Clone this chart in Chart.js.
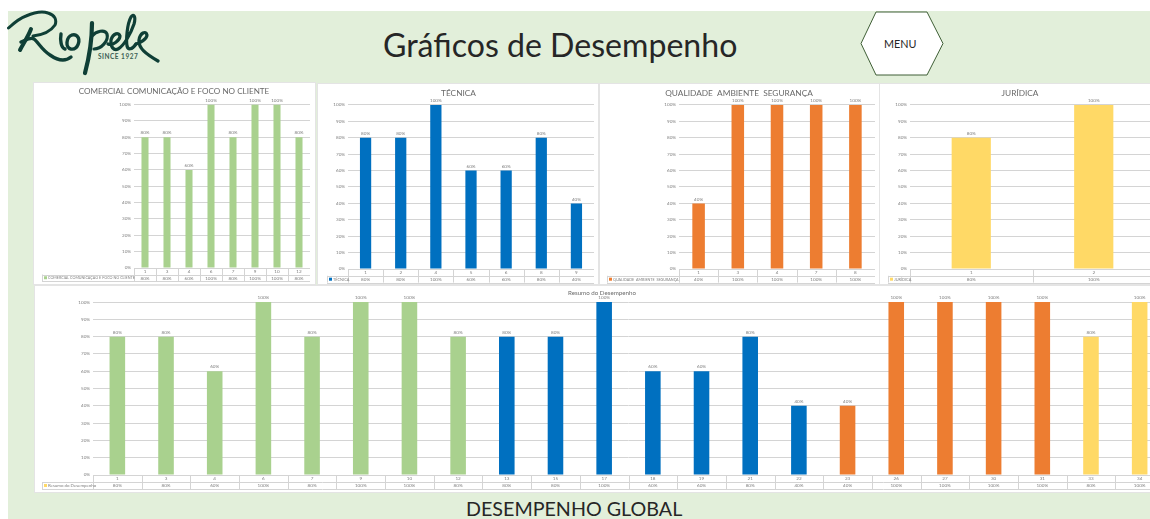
<!DOCTYPE html>
<html lang="pt">
<head>
<meta charset="utf-8">
<script src="https://cdn.jsdelivr.net/npm/chart.js@4"></script>
<style>
html,body{margin:0;padding:0;background:#fff;width:1150px;height:519px;overflow:hidden;font-family:Lato,sans-serif}
#bg{position:absolute;left:8px;top:11px;width:1142px;height:508px;background:#e2efda}
.panel{position:absolute;background:#fff;box-shadow:0 0 0 1px #e4e4e4}
canvas{position:absolute;filter:blur(.4px)}
#head{position:absolute;left:383px;top:21px;font-size:32.1px;line-height:48px;color:#262626;white-space:nowrap}
#foot{position:absolute;left:466px;top:496px;font-size:19.7px;line-height:26px;color:#262626;white-space:nowrap}
#menu{position:absolute;left:884px;top:37px;font-size:10.8px;line-height:14px;color:#262626}
svg{position:absolute;left:0;top:0}
</style>
</head>
<body>
<div id="bg"></div>
<div class="panel" style="left:34px;top:83px;width:281px;height:201px"></div>
<div class="panel" style="left:318px;top:84px;width:280px;height:200px"></div>
<div class="panel" style="left:600px;top:84px;width:279px;height:200px"></div>
<div class="panel" style="left:880px;top:84px;width:270px;height:200px"></div>
<div class="panel" style="left:35px;top:286px;width:1115px;height:206px"></div>
<svg width="1150" height="519" style="filter:blur(.3px)">
<g fill="none" stroke="#0f3f36" stroke-linecap="round" stroke-linejoin="round">
<path stroke-width="3" d="M8.5 28C14 23 20 18 26 16C33 13 42 11 48 13C55 15 57 20 55 25C51 31 42 35 33 36"/>
<path stroke-width="4" d="M31 29C28 37 23 44 20 50"/>
<path stroke-width="3.4" d="M21 42C26 40 31 37 34 39C38 42 42 50 50 55C57 60 65 62 71 57"/>
<path stroke-width="3.4" d="M61 34C60 40 61 48 65 49"/>
<path stroke-width="3.4" d="M72 35C66 37 65 48 71 49C78 50 81 40 77 36C75 34 73 35 72 35"/>
<path stroke-width="4.2" d="M92 23C92 40 89 58 85 73"/>
<path stroke-width="3.2" d="M92 36C96 31 105 29 107 34C109 41 101 49 94 49"/>
<path stroke-width="3.2" d="M108 44C113 46 120 40 120 36C119 32 113 33 111 40C110 47 114 51 118 49C124 46 131 33 134 24C136 17 134 13 131 17C127 24 126 40 127 46C128 50 132 50 136 44"/>
<path stroke-width="3.2" d="M136 44C140 43 147 39 147 35C146 30 140 33 139 40C138 48 146 54 158 61"/>
</g>
</svg>
<div style="position:absolute;left:98px;top:52px;font-size:6.5px;line-height:9px;font-weight:700;letter-spacing:.5px;color:#3d5f55;white-space:nowrap">SINCE 1927</div>
<div id="head">Gráficos de Desempenho</div>
<svg width="1150" height="519"><polygon points="861,43.5 876,12 927,12 943,43.5 927,75 876,75" fill="#fff" stroke="#3f5f36" stroke-width="1"/></svg>
<div id="menu">MENU</div>
<div id="foot">DESEMPENHO GLOBAL</div>

<canvas id="c1" width="272" height="200" style="left:38px;top:83px"></canvas>
<canvas id="c2" width="271" height="200" style="left:323px;top:84px"></canvas>
<canvas id="c3" width="272" height="200" style="left:603px;top:84px"></canvas>
<canvas id="c4" width="270" height="200" style="left:885px;top:84px"></canvas>
<canvas id="c5" width="1124" height="206" style="left:40px;top:286px"></canvas>

<script>
// ---- chart data ----
const comercialLabels = ['1','3','4','6','7','9','10','12'];
const comercialValues = [80,80,60,100,80,100,100,80];
const tecnicaLabels = ['1','2','4','5','6','8','9'];
const tecnicaValues = [80,80,100,60,60,80,40];
const qualidadeLabels = ['1','3','4','7','8'];
const qualidadeValues = [40,100,100,100,100];
const juridicaLabels = ['1','2'];
const juridicaValues = [80,100];
const globalLabels = ['1','3','4','6','7','9','10','12','13','15','17','18','19','21','22','23','26','27','30','31','33','34'];
const globalValues = [80,80,60,100,80,100,100,80,80,80,100,60,60,80,40,40,100,100,100,100,80,100];
const globalAreas = ['c','c','c','c','c','c','c','c','t','t','t','t','t','t','t','q','q','q','q','q','j','j'];

// ---- styles ----
const GREEN='#a9d18e', BLUE='#0070c0', ORANGE='#ed7d31', YELLOW='#ffd966';
const areaColour = {c:GREEN,t:BLUE,q:ORANGE,j:YELLOW};
const GRID='#d4d4d4', TXT='#7f7f7f';

const tablePlugin = {
  id:'dataTable',
  afterDraw(chart,args,o){
    const {ctx,chartArea:a,scales:{x}}=chart;
    const labels=chart.data.labels, vals=chart.data.datasets[0].data;
    const y0=a.bottom, y1=y0+o.row1, y2=y1+o.row2;
    const step=(a.right-a.left)/labels.length;
    ctx.save();
    ctx.strokeStyle=GRID; ctx.lineWidth=1;
    const hl=(xa,xb,y)=>{ctx.beginPath();ctx.moveTo(xa,Math.round(y)+.5);ctx.lineTo(xb,Math.round(y)+.5);ctx.stroke();};
    const vl=(xp,ya,yb)=>{const p=Math.round(xp)+.5;ctx.beginPath();ctx.moveTo(p,ya);ctx.lineTo(p,yb);ctx.stroke();};
    hl(a.left,a.right,y0); hl(o.keyLeft,a.right,y1); hl(o.keyLeft,a.right,y2);
    vl(o.keyLeft,y1,y2);
    for(let i=0;i<=labels.length;i++) vl(a.left+i*step,y0,y2);
    ctx.fillStyle=TXT; ctx.font='4.6px Lato'; ctx.textAlign='center'; ctx.textBaseline='middle';
    labels.forEach((l,i)=>{
      const cx=x.getPixelForValue(i);
      ctx.fillText(l,cx,(y0+y1)/2+.5);
      ctx.fillText(vals[i]+'%',cx,(y1+y2)/2+.5);
    });
    ctx.fillStyle=o.keyColour; ctx.fillRect(o.keyLeft+2,(y1+y2)/2-1.5,3,3);
    ctx.fillStyle=TXT; ctx.textAlign='left'; ctx.font=o.nameFont;
    ctx.fillText(chart.data.datasets[0].label,o.keyLeft+6,(y1+y2)/2+.5);
    ctx.restore();
  }
};
const valueLabels = {
  id:'valueLabels',
  afterDatasetsDraw(chart){
    const {ctx}=chart, meta=chart.getDatasetMeta(0), vals=chart.data.datasets[0].data;
    ctx.save();
    ctx.fillStyle=TXT; ctx.font='4.6px Lato'; ctx.textAlign='center'; ctx.textBaseline='bottom';
    meta.data.forEach((b,i)=>ctx.fillText(vals[i]+'%',b.x,b.y-2));
    ctx.restore();
  }
};

function make(id,cfg){
  const plotLeftGap=cfg.gutter;
  return new Chart(document.getElementById(id),{
    type:'bar',
    plugins:[tablePlugin,valueLabels],
    data:{labels:cfg.labels,datasets:[{label:cfg.name,data:cfg.values,backgroundColor:cfg.colours,
      categoryPercentage:1,barPercentage:.32,borderWidth:0}]},
    options:{
      responsive:false,animation:false,devicePixelRatio:1,
      layout:{padding:{left:0,right:0,top:0,bottom:cfg.bottom}},
      plugins:{
        legend:{display:false},tooltip:{enabled:false},
        title:{display:true,text:cfg.title,color:'#6a6a6a',
          font:{family:'Lato',size:cfg.titleSize,weight:'normal'},
          padding:{top:cfg.titleTop,bottom:cfg.titleBottom}},
        dataTable:{row1:cfg.row,row2:cfg.row,keyLeft:cfg.keyLeft,keyColour:cfg.keyColour,nameFont:cfg.nameFont}
      },
      scales:{
        x:{grid:{display:false},border:{display:false},ticks:{display:false},afterFit(s){s.height=0;}},
        y:{min:0,max:100,
          grid:{color:GRID,lineWidth:1,drawTicks:false},border:{display:false},
          ticks:{stepSize:10,padding:3,color:TXT,font:{family:'Lato',size:4.6},callback:v=>v+'%'},
          afterFit(s){s.width=plotLeftGap;}}
      }
    }
  });
}

make('c1',{labels:comercialLabels,values:comercialValues,name:'COMERCIAL COMUNICAÇÃO E FOCO NO CLIENTE',title:'COMERCIAL COMUNICAÇÃO E FOCO NO CLIENTE',
  colours:GREEN,keyColour:GREEN,gutter:96,keyLeft:4,bottom:15,row:6.5,titleSize:8.1,titleTop:4,titleBottom:7.8,nameFont:'3.7px Lato'});
make('c2',{labels:tecnicaLabels,values:tecnicaValues,name:'TÉCNICA',title:'TÉCNICA',
  colours:BLUE,keyColour:BLUE,gutter:25,keyLeft:4,bottom:15,row:6.8,titleSize:8.3,titleTop:4,titleBottom:7,nameFont:'3.9px Lato'});
make('c3',{labels:qualidadeLabels,values:qualidadeValues,name:'QUALIDADE  AMBIENTE  SEGURANÇA',title:'QUALIDADE  AMBIENTE  SEGURANÇA',
  colours:ORANGE,keyColour:ORANGE,gutter:76,keyLeft:4,bottom:15,row:6.8,titleSize:8.3,titleTop:4,titleBottom:7,nameFont:'3.7px Lato'});
make('c4',{labels:juridicaLabels,values:juridicaValues,name:'JURÍDICA',title:'JURÍDICA',
  colours:YELLOW,keyColour:YELLOW,gutter:25,keyLeft:3,bottom:15,row:6.8,titleSize:8.3,titleTop:4,titleBottom:7,nameFont:'3.9px Lato'});
make('c5',{labels:globalLabels,values:globalValues,name:'Resumo do Desempenho',title:'Resumo do Desempenho',
  colours:globalAreas.map(a=>areaColour[a]),keyColour:YELLOW,gutter:53,keyLeft:2,bottom:17,row:7,titleSize:6.2,titleTop:3,titleBottom:5.6,nameFont:'4.4px Lato'});
</script>
</body>
</html>
